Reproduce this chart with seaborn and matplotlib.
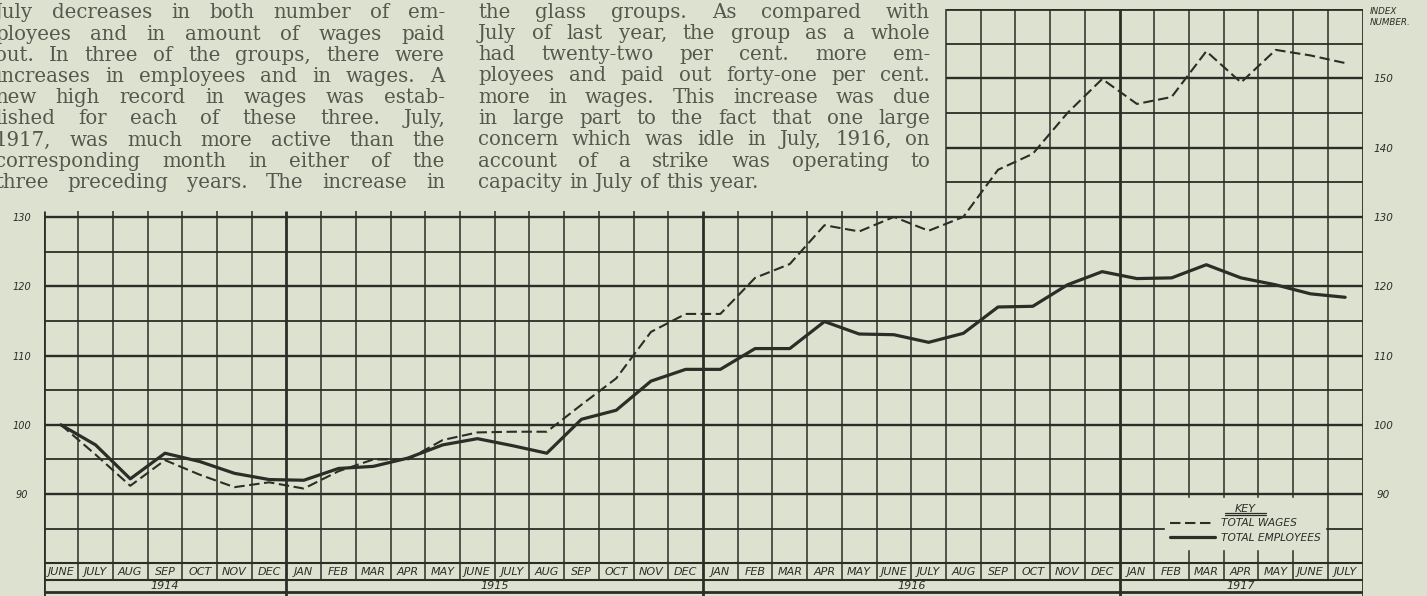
import numpy as np
import pandas as pd
import seaborn as sns
import matplotlib.pyplot as plt
from matplotlib.lines import Line2D
from matplotlib.transforms import IdentityTransform

W, H = 1427, 596
BG = '#dde1d0'
INK = '#2b2e26'
PRINT = '#55584d'

# month columns, June 1914 .. July 1917
months = ['JUNE', 'JULY', 'AUG', 'SEP', 'OCT', 'NOV', 'DEC',
          'JAN', 'FEB', 'MAR', 'APR', 'MAY', 'JUNE', 'JULY', 'AUG', 'SEP', 'OCT', 'NOV', 'DEC',
          'JAN', 'FEB', 'MAR', 'APR', 'MAY', 'JUNE', 'JULY', 'AUG', 'SEP', 'OCT', 'NOV', 'DEC',
          'JAN', 'FEB', 'MAR', 'APR', 'MAY', 'JUNE', 'JULY']
years = ['1914', '1915', '1916', '1917']

# index numbers
wages = [100, 95.7, 91.2, 94.9, 92.8, 91.0, 91.7,
         90.8, 93.3, 95.0, 95.0, 97.8, 98.9, 99.0, 99.0, 102.9, 106.7, 113.4, 116.0,
         116.0, 121.2, 123.2, 128.8, 127.9, 130.0, 128.0, 130.0, 136.8, 139.1, 145.0, 149.9,
         146.3, 147.3, 153.9, 149.4, 154.1, 153.3, 152.2]
employees = [100, 97.1, 92.2, 95.9, 94.7, 93.0, 92.1,
             92.0, 93.7, 94.0, 95.2, 97.1, 98.0, 97.0, 95.9, 100.8, 102.1, 106.3, 108.0,
             108.0, 111.0, 111.0, 114.9, 113.1, 113.0, 111.9, 113.2, 117.0, 117.1, 120.2, 122.1,
             121.1, 121.2, 123.1, 121.2, 120.2, 118.9, 118.4]

left_ticks = [90, 100, 110, 120, 130]
right_ticks = [90, 100, 110, 120, 130, 140, 150]

text_left = [
    "July decreases in both number of em-",
    "ployees and in amount of wages paid",
    "out.  In three of the groups, there were",
    "increases in employees and in wages.  A",
    "new high record in wages was estab-",
    "lished for each of these three.  July,",
    "1917, was much more active than the",
    "corresponding month in either of the",
    "three preceding years.  The increase in",
]
text_right = [
    "the glass groups.  As compared with",
    "July of last year, the group as a whole",
    "had twenty-two per cent. more em-",
    "ployees and paid out forty-one per cent.",
    "more in wages.  This increase was due",
    "in large part to the fact that one large",
    "concern which was idle in July, 1916, on",
    "account of a strike was operating to",
    "capacity in July of this year.",
]

df = pd.DataFrame({'col': np.arange(len(months)), 'TOTAL WAGES': wages,
                   'TOTAL EMPLOYEES': employees})
long = df.melt(id_vars='col', var_name='series', value_name='index')

sns.set_style('white')
plt.rcParams['font.family'] = ['DejaVu Sans']

hand = dict(family='DejaVu Sans', style='italic', color=INK)

fig = plt.figure(figsize=(W / 100, H / 100), dpi=100, facecolor=BG)
unit = 6.93            # pixels per index point
top = 160
bottom = top - (H - 9) / unit
ax = fig.add_axes([43.5 / W, 0, 1319 / W, (H - 9) / H])
ax.set_facecolor(BG)
n = len(months)
ax.set_xlim(-0.5, n - 0.5)
ax.set_ylim(bottom, top)
for s in ax.spines.values():
    s.set_visible(False)

row_bot = 80 - 17 / unit      # bottom of the month row
frame_bot = 80 - 29 / unit    # bottom of the year row
upper_start = months.index('AUG', 19) - 0.5   # upper grid starts at Aug 1916
year_starts = [0] + [i for i, m in enumerate(months) if m == 'JAN']
year_ends = year_starts[1:] + [n]

# ruled paper
for v in np.arange(85, 131, 5):
    ax.hlines(v, -0.5, n - 0.5, color=INK, lw=1.7 if v % 10 == 0 else 1.3, zorder=1)
for v in np.arange(135, 161, 5):
    ax.hlines(v, upper_start, n - 0.5, color=INK, lw=2.0 if v == 160 else (1.7 if v % 10 == 0 else 1.3), zorder=1)
ax.hlines([80, row_bot], -0.5, n - 0.5, color=INK, lw=1.5, zorder=1)
ax.hlines(frame_bot, -0.5, n - 0.5, color=INK, lw=2.0, zorder=1)
for b in np.arange(-0.5, n, 1):
    is_year = (b + 0.5) in year_starts or b == n - 0.5
    vtop = 160 if b >= upper_start else 130.8
    ax.vlines(b, frame_bot - 1 if is_year else row_bot, vtop, color=INK,
              lw=2.0 if is_year else 1.1, zorder=1)

sns.lineplot(data=long, x='col', y='index', hue='series', style='series', size='series',
             palette=[INK, INK],
             dashes={'TOTAL WAGES': (5, 2.2), 'TOTAL EMPLOYEES': ''},
             sizes={'TOTAL WAGES': 1.5, 'TOTAL EMPLOYEES': 2.3},
             ax=ax, zorder=4, legend=False)

# month and year labels
for i, m in enumerate(months):
    ax.text(i, (80 + row_bot) / 2, m, ha='center', va='center', size=8, **hand)
for y, s0, s1 in zip(years, year_starts, year_ends):
    ax.text((s0 + s1 - 1) / 2, (row_bot + frame_bot) / 2, y, ha='center', va='center', size=8, **hand)

ax.set_xticks([])
ax.set_xlabel('')
ax.set_ylabel('')
ax.set_yticks(left_ticks, labels=[str(t) for t in left_ticks])
ax.tick_params(axis='y', length=0, pad=15.5, labelsize=7, labelcolor=INK)
for t in ax.get_yticklabels():
    t.set_ha('center')
    t.set_style('italic')

ax2 = ax.twinx()
ax2.set_ylim(ax.get_ylim())
ax2.set_yticks(right_ticks, labels=[str(t) for t in right_ticks])
ax2.tick_params(axis='y', length=0, pad=14.8, labelsize=7.5, labelcolor=INK)
for t in ax2.get_yticklabels():
    t.set_ha('center')
    t.set_style('italic')
for s in ax2.spines.values():
    s.set_visible(False)
ax2.annotate('INDEX\nNUMBER.', xy=(1, 1), xycoords='axes fraction', xytext=(7, 2),
             textcoords='offset pixels', ha='left', va='top', size=6.3, linespacing=1.3, **hand)

# key box sits over the ruling, Feb..June 1917, between 89.4 and 81.6
key = ax.legend(handles=ax.lines[:2], labels=['TOTAL WAGES', 'TOTAL EMPLOYEES'],
                title='KEY', loc='upper left', bbox_to_anchor=(31.81, 81.6, 4.61, 7.8),
                bbox_transform=ax.transData, mode='expand', frameon=True,
                facecolor=BG, edgecolor=BG, framealpha=1, fancybox=False,
                borderpad=0.5, borderaxespad=0,
                handlelength=4.2, handletextpad=0.5, labelspacing=0.45,
                prop=dict(family='DejaVu Sans', style='italic', size=7.7),
                title_fontproperties=dict(family='DejaVu Sans', style='italic', size=8))
for t in key.get_texts():
    t.set_color(INK)
key.get_title().set_color(INK)
key.set_zorder(5)

# justified body text from the page
renderer = fig.canvas.get_renderer()


def justify(lines, x0, x1, y0, step, last_ragged):
    for i, line in enumerate(lines):
        words = line.split()
        arts = [fig.text(0, 0, w, transform=IdentityTransform(), family='DejaVu Serif',
                         size=14.2, color=PRINT, va='baseline', zorder=6) for w in words]
        widths = [a.get_window_extent(renderer).width for a in arts]
        if last_ragged and i == len(lines) - 1:
            gap = 7.0
        else:
            gap = max((x1 - x0 - sum(widths)) / (len(words) - 1), 4.0)
        x = x0
        yb = H - (y0 + i * step)
        for a, w in zip(arts, widths):
            a.set_position((x, yb))
            x += w + gap


justify(text_left, -5, 445, 18.3, 21.2, False)
justify(text_right, 478, 930, 17.5, 21.3, True)

# double rule under KEY
fig.canvas.draw()
tb = key.get_title().get_window_extent(renderer)
for dy in (1.0, 3.5):
    fig.add_artist(Line2D([tb.x0 - 10, tb.x1 + 10], [tb.y0 + 2 - dy, tb.y0 + 2 - dy],
                          transform=IdentityTransform(), color=INK, lw=0.9, zorder=7))

fig.savefig('out.png', dpi=100, facecolor=BG)
